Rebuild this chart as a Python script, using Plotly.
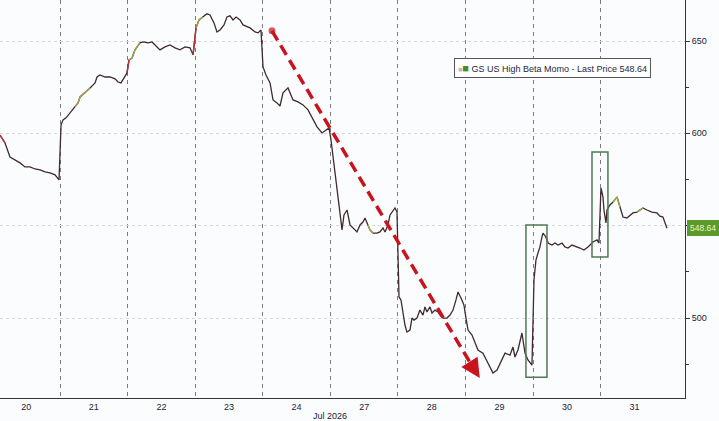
import plotly.graph_objects as go

# ---- data ----
day_labels = ["20", "21", "22", "23", "24", "27", "28", "29", "30", "31"]

# time in trading-day index units (day k spans k..k+1), price values
t = [0.112, 0.186, 0.260, 0.334, 0.408, 0.482, 0.556, 0.630, 0.704, 0.778, 0.852, 0.926, 0.985,
     1.015, 1.044, 1.089, 1.148, 1.222, 1.266, 1.296, 1.370, 1.444, 1.518, 1.547, 1.592, 1.666, 1.740,
     1.814, 1.858, 1.902, 1.947, 1.991,
     2.021, 2.065, 2.109, 2.183, 2.228, 2.302, 2.361, 2.405, 2.479, 2.553, 2.627, 2.701, 2.775, 2.849,
     2.923, 2.968,
     3.012, 3.056, 3.115, 3.174, 3.219, 3.278, 3.322, 3.367, 3.426, 3.470, 3.515, 3.559, 3.604, 3.663,
     3.707, 3.766, 3.811, 3.885, 3.929, 3.973,
     4.003, 4.047, 4.107, 4.151, 4.210, 4.254, 4.299, 4.373, 4.447, 4.521, 4.595, 4.669, 4.743, 4.802,
     4.876, 4.950, 4.980,
     5.009, 5.053, 5.098, 5.172, 5.201, 5.246, 5.290, 5.334, 5.393, 5.438, 5.482, 5.512, 5.556, 5.586,
     5.630, 5.689, 5.734, 5.778, 5.808, 5.852, 5.882, 5.926, 5.956, 5.985,
     6.015, 6.044, 6.074, 6.103, 6.133, 6.177, 6.207, 6.237, 6.281, 6.325, 6.370, 6.399, 6.429, 6.473,
     6.503, 6.547, 6.592, 6.621, 6.666, 6.725, 6.769, 6.814, 6.858, 6.888, 6.932, 6.976,
     7.006, 7.036, 7.095, 7.139, 7.183, 7.257, 7.331, 7.405, 7.465, 7.509, 7.583, 7.657, 7.701, 7.731,
     7.775, 7.834, 7.849, 7.879, 7.923, 7.982,
     8.012, 8.041, 8.071, 8.100, 8.130, 8.145, 8.189, 8.219, 8.278, 8.322, 8.367, 8.426, 8.470, 8.515,
     8.574, 8.618, 8.692, 8.751, 8.811, 8.885, 8.944, 8.973,
     9.003, 9.033, 9.047, 9.077, 9.092, 9.136, 9.181, 9.240, 9.284, 9.329, 9.387, 9.432, 9.476, 9.535,
     9.580, 9.624, 9.683, 9.757, 9.831, 9.876, 9.920, 9.979]

price = [599.1, 594.8, 587.2, 585.6, 584.0, 581.8, 581.8, 580.7, 580.2, 579.1, 578.6, 577.5, 574.8,
         604.5, 607.3, 608.4, 611.0, 614.3, 616.5, 619.7, 621.9, 624.6, 627.3, 630.5, 631.6, 630.5, 630.5,
         629.5, 627.8, 627.3, 630.0, 632.7,
         639.8, 640.8, 645.2, 649.0, 649.5, 649.0, 649.5, 647.9, 645.2, 646.8, 647.9, 646.3, 645.2, 646.8,
         646.3, 642.5,
         657.1, 661.4, 663.0, 664.7, 664.1, 659.8, 654.9, 656.0, 658.7, 663.0, 663.6, 661.4, 663.0, 661.4,
         658.7, 657.6, 657.1, 654.9, 654.4, 656.0,
         636.0, 631.6, 627.3, 618.1, 616.5, 614.8, 621.9, 624.6, 618.1, 617.0, 615.4, 612.7, 607.3, 603.5,
         600.2, 601.8, 602.9,
         596.4, 582.9, 569.3, 547.7, 555.8, 558.5, 550.4, 548.8, 546.6, 550.4, 552.0, 554.2, 550.4, 547.7,
         546.0, 546.0, 546.6, 548.8, 546.6, 550.4, 555.8, 558.5, 559.6, 557.4,
         511.4, 509.8, 503.3, 496.2, 492.4, 493.5, 500.0, 498.9, 500.0, 504.3, 501.6, 506.0, 503.3, 506.0,
         502.7, 504.3, 503.3, 501.6, 500.0, 500.0, 501.6, 504.3, 509.8, 514.1, 510.8, 507.0,
         500.0, 493.5, 490.8, 486.5, 482.7, 481.0, 475.6, 470.2, 471.8, 475.6, 481.0, 479.9, 484.3, 478.9,
         482.7, 491.9, 488.1, 481.0, 477.3, 474.5,
         520.6, 531.4, 535.2, 538.5, 543.9, 546.0, 543.9, 540.6, 539.5, 540.6, 539.5, 540.6, 538.5, 537.9,
         539.5, 539.0, 537.9, 536.8, 538.5, 541.2, 542.3, 540.6,
         570.4, 565.5, 558.5, 551.5, 558.5, 561.2, 562.8, 565.5, 560.1, 554.7, 554.2, 555.8, 556.9, 557.4,
         558.5, 559.6, 558.5, 557.4, 556.9, 555.2, 554.7, 548.64]

last_price = 548.64
series_name = "GS US High Beta Momo"

# index ranges of the series drawn with an up (olive/green) or down (red) tint
up_ranges = [(17, 21), (32, 35), (48, 50), (97, 99), (183, 185), (190, 192)]
down_ranges = [(0, 1), (31, 32), (47, 48), (161, 162)]

# trend arrow: start, point where the dashed shaft ends, arrow tip
arrow_t = [4.136, 7.080, 7.210]
arrow_p = [655.5, 475.0, 467.5]

# highlight boxes [t0, t1, p0, p1]
boxes = [[7.893, 8.204, 468.0, 550.4],
         [8.870, 9.106, 533.0, 589.9]]

y_ticks = [500, 550, 600, 650]
y_ticktext = ["500", "", "600", "650"]
y_minor = [475, 525, 575, 625]

RED = "#c8141e"

# ---- figure ----
fig = go.Figure()

fig.add_trace(go.Scatter(
    x=t, y=price, mode="lines",
    line=dict(color="#3f2a2c", width=1.3),
    hoverinfo="skip", showlegend=False))


def segments(ranges):
    xs, ys = [], []
    for a, b in ranges:
        xs += t[a:b + 1] + [None]
        ys += price[a:b + 1] + [None]
    return xs, ys


ux, uy = segments(up_ranges)
fig.add_trace(go.Scatter(x=ux, y=uy, mode="lines", line=dict(color="#a4a44c", width=1.4),
                         hoverinfo="skip", showlegend=False))
dx, dy = segments(down_ranges)
fig.add_trace(go.Scatter(x=dx, y=dy, mode="lines", line=dict(color="#b8323a", width=1.4),
                         hoverinfo="skip", showlegend=False))

# dashed shaft with round start cap
fig.add_trace(go.Scatter(
    x=arrow_t[:2], y=arrow_p[:2], mode="lines+markers",
    line=dict(color=RED, width=3.5, dash="11px,6px"),
    marker=dict(size=[7, 0], color=RED, line=dict(width=0)),
    hoverinfo="skip", showlegend=False))

# solid arrow head
fig.add_annotation(
    xref="x", yref="y", axref="x", ayref="y",
    x=arrow_t[2], y=arrow_p[2], ax=arrow_t[1], ay=arrow_p[1],
    showarrow=True, arrowhead=2, arrowsize=1.1, arrowwidth=3.5, arrowcolor=RED, text="")

shapes = []
for b in boxes:
    shapes.append(dict(type="rect", xref="x", yref="y", x0=b[0], x1=b[1], y0=b[2], y1=b[3],
                       line=dict(color="#4d7a52", width=1.5), fillcolor="rgba(0,0,0,0)"))
fig.update_layout(shapes=shapes)

font_main = "Liberation Sans, DejaVu Sans, sans-serif"

fig.add_annotation(
    xref="paper", yref="paper", x=0.806, y=0.828, xanchor="center", yanchor="middle",
    text=("<span style='color:#b8b8c0;font-size:7px'>■</span>"
          "<span style='color:#4f8a2a;font-size:11px'>■</span> "
          + series_name + " - Last Price " + f"{last_price:.2f}"),
    showarrow=False, font=dict(size=9, color="#1e1e3c", family=font_main),
    bgcolor="#ffffff", bordercolor="#555560", borderwidth=1, borderpad=3)

fig.add_annotation(
    xref="paper", yref="y", x=1, y=last_price, xanchor="left", yanchor="middle", xshift=2,
    text=f"{last_price:.2f}", showarrow=False,
    font=dict(size=8.5, color="#eaf6c8", family=font_main),
    bgcolor="#5c9a2c", bordercolor="#5c9a2c", borderwidth=1, borderpad=2)

fig.add_annotation(
    xref="x", yref="paper", x=5.0, y=0, xanchor="center", yanchor="top", yshift=-11,
    text="Jul 2026", showarrow=False, font=dict(size=9, color="#222233", family=font_main))

fig.update_layout(
    width=719, height=421, autosize=False,
    margin=dict(l=0, r=34, t=0, b=23),
    paper_bgcolor="#fbfcfe", plot_bgcolor="#fbfcfe",
    font=dict(family=font_main, size=9, color="#222233"),
    showlegend=False,
)

fig.update_xaxes(
    range=[0.112, 10.246],
    tickmode="array", tickvals=[i + 0.5 for i in range(len(day_labels))], ticktext=day_labels,
    ticks="", showgrid=False, zeroline=False,
    showline=True, linecolor="#333340", linewidth=1,
    tickfont=dict(size=9, color="#222233"),
    minor=dict(tickmode="array", tickvals=list(range(1, len(day_labels))), showgrid=True,
               gridcolor="#7a7a86", griddash="4px,4px", gridwidth=1, ticks=""),
)

fig.update_yaxes(
    range=[456.7, 672.2], side="right",
    tickmode="array", tickvals=y_ticks, ticktext=y_ticktext,
    ticks="outside", ticklen=4, tickcolor="#333340",
    showgrid=True, gridcolor="#d6d8dc", griddash="dot", gridwidth=1,
    zeroline=False, showline=True, linecolor="#333340", linewidth=1,
    tickfont=dict(size=9, color="#222233"),
    minor=dict(tickmode="array", tickvals=y_minor, ticks="outside", ticklen=3,
               tickcolor="#333340", showgrid=False),
)

fig.write_html("out.html", config={"displayModeBar": False},
               post_script="document.body.style.margin='0px';")
